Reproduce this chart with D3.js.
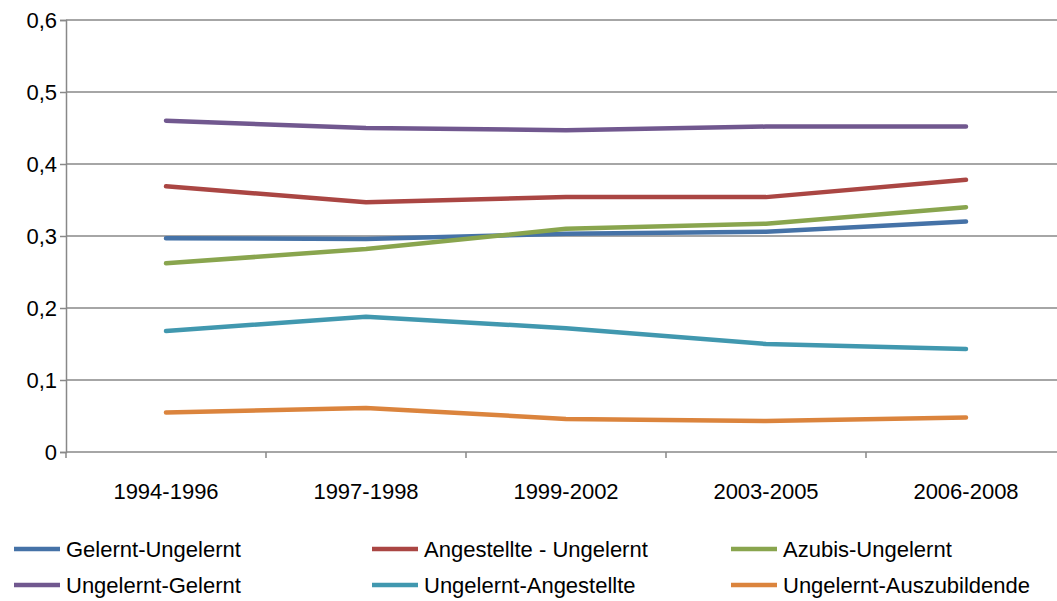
<!DOCTYPE html>
<html><head><meta charset="utf-8">
<script src="https://cdn.jsdelivr.net/npm/d3@7"></script>
<style>body{margin:0;background:#fff}svg{display:block;font-family:"Liberation Sans",Arial,sans-serif}</style>
</head><body>
<svg id="c" width="1057" height="601"></svg>
<script>
const categories = ["1994-1996","1997-1998","1999-2002","2003-2005","2006-2008"];
const seriesNames = ["Gelernt-Ungelernt","Angestellte - Ungelernt","Azubis-Ungelernt","Ungelernt-Gelernt","Ungelernt-Angestellte","Ungelernt-Auszubildende"];
const gelerntUngelernt = [0.297,0.296,0.303,0.306,0.320];
const angestellteUngelernt = [0.369,0.347,0.354,0.354,0.378];
const azubisUngelernt = [0.262,0.282,0.310,0.317,0.340];
const ungelerntGelernt = [0.460,0.450,0.447,0.452,0.452];
const ungelerntAngestellte = [0.168,0.188,0.172,0.150,0.143];
const ungelerntAuszubildende = [0.055,0.061,0.046,0.043,0.048];
const yTicks = [0,0.1,0.2,0.3,0.4,0.5,0.6];
const colors = ["#4572A7","#AA4643","#89A54E","#71588F","#4198AF","#DB843D"];
const allSeries = [gelerntUngelernt,angestellteUngelernt,azubisUngelernt,ungelerntGelernt,ungelerntAngestellte,ungelerntAuszubildende];

(function(){
const svg = d3.select("#c");
const mL = 66, mR = 1066, mT = 20, mB = 452;
const FS = 22;
const x = d3.scaleBand().domain(categories).range([mL,mR]);
const y = d3.scaleLinear().domain([0,0.6]).range([mB,mT]);
const fmt = d => d===0 ? "0" : d3.format(".1f")(d).replace(".",",");

svg.append("g").selectAll("line").data(yTicks.filter(d=>d>0)).join("line")
  .attr("x1",mL).attr("x2",1057).attr("y1",d=>y(d)).attr("y2",d=>y(d))
  .attr("stroke","#888").attr("stroke-width",1.5);

const ya = svg.append("g").attr("transform",`translate(${mL},0)`)
  .call(d3.axisLeft(y).tickValues(yTicks).tickFormat(fmt).tickSize(6).tickPadding(3));
ya.select(".domain").attr("stroke","#888").attr("stroke-width",1.5);
ya.selectAll(".tick line").attr("stroke","#888").attr("stroke-width",1.5);
ya.selectAll(".tick text").attr("font-size",FS).attr("fill","#000").attr("font-family","Liberation Sans, Arial, sans-serif");

const xa = svg.append("g").attr("transform",`translate(0,${mB})`)
  .call(d3.axisBottom(x).tickSize(0).tickPadding(31));
xa.select(".domain").attr("stroke","#888").attr("stroke-width",1.5).attr("d",`M${mL},0H1057`);
xa.selectAll(".tick text").attr("font-size",FS).attr("fill","#000").attr("font-family","Liberation Sans, Arial, sans-serif");
const bounds = categories.map(c=>x(c)).concat([mR]).filter(v=>v<=1057);
svg.append("g").selectAll("line").data(bounds).join("line")
  .attr("x1",d=>d).attr("x2",d=>d).attr("y1",mB).attr("y2",mB+6)
  .attr("stroke","#888").attr("stroke-width",1.5);

const line = d3.line().x((d,i)=>x(categories[i])+x.bandwidth()/2).y(d=>y(d));
svg.append("g").selectAll("path").data(allSeries).join("path")
  .attr("d",line).attr("fill","none").attr("stroke",(d,i)=>colors[i])
  .attr("stroke-width",4.5).attr("stroke-linecap","round").attr("stroke-linejoin","round");

const colX = [14,372,731], rowY = [549,585];
const lg = svg.append("g").selectAll("g").data(seriesNames).join("g")
  .attr("transform",(d,i)=>`translate(${colX[i%3]},${rowY[Math.floor(i/3)]})`);
lg.append("line").attr("x1",0).attr("x2",46).attr("y1",0).attr("y2",0)
  .attr("stroke",(d,i)=>colors[i]).attr("stroke-width",4.5);
lg.append("text").attr("x",52).attr("y",0).attr("dy","0.35em")
  .attr("font-size",FS).attr("fill","#000").text(d=>d);
})();
</script>
</body></html>
